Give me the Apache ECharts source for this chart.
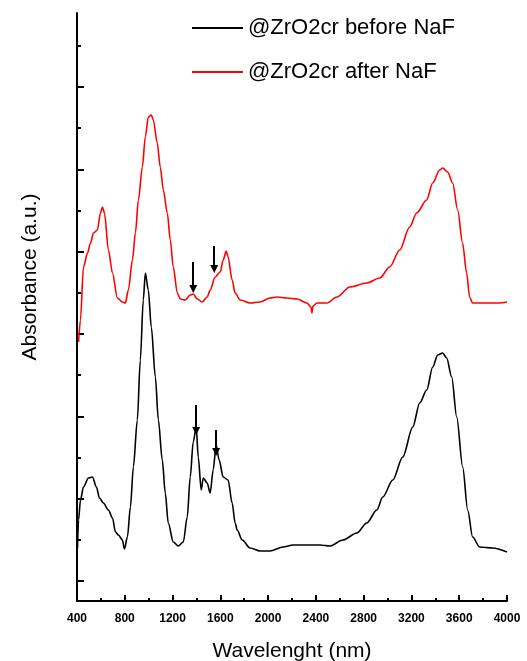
<!DOCTYPE html>
<html>
<head>
<meta charset="utf-8">
<title>Absorbance</title>
<script src="https://cdn.jsdelivr.net/npm/echarts@6/dist/echarts.min.js"></script>
<style>
  html, body { margin: 0; padding: 0; background: #fff; }
  #main { width: 527px; height: 661px; }
</style>
</head>
<body>
<div id="main"></div>
<script>
// wavelength (nm) / absorbance (arbitrary units)
var redX = [413, 429, 454, 488, 513, 538, 571, 596, 613, 630, 663, 697, 738, 780, 805, 830, 864, 889, 914, 947, 972, 997, 1022, 1039, 1072, 1097, 1123, 1156, 1181, 1206, 1240, 1265, 1306, 1348, 1373, 1407, 1448, 1490, 1515, 1557, 1599, 1624, 1649, 1665, 1699, 1724, 1766, 1849, 1933, 2016, 2075, 2158, 2242, 2325, 2359, 2367, 2375, 2409, 2492, 2576, 2684, 2826, 2935, 3018, 3102, 3185, 3244, 3327, 3378, 3436, 3461, 3503, 3545, 3587, 3628, 3662, 3687, 3712, 3829, 3937, 4000];
var redY = [25.9, 28.1, 33.4, 34.8, 35.8, 36.8, 37.1, 38.8, 39.4, 38.8, 35.1, 32.8, 30.3, 29.9, 29.8, 31.1, 34.1, 36.8, 40.1, 43.4, 46.4, 48.4, 48.6, 48.1, 45.8, 43.4, 41.1, 38.8, 36.1, 33.4, 30.8, 30.2, 30.1, 30.6, 30.7, 30.2, 29.9, 30.4, 31.1, 32.4, 32.9, 34.1, 35.0, 34.4, 32.1, 30.8, 30.1, 29.8, 29.9, 30.3, 30.4, 30.3, 30.2, 29.8, 29.4, 28.8, 29.5, 29.8, 29.8, 30.4, 31.4, 31.8, 32.3, 33.4, 35.1, 37.4, 38.8, 40.1, 41.8, 43.1, 43.3, 42.9, 41.8, 39.1, 35.8, 32.8, 30.4, 29.8, 29.8, 29.8, 29.9];

var blackX = [404, 413, 429, 454, 496, 529, 563, 588, 621, 663, 697, 722, 747, 780, 797, 822, 847, 872, 905, 930, 955, 972, 997, 1022, 1056, 1081, 1114, 1139, 1164, 1206, 1248, 1290, 1323, 1348, 1373, 1398, 1415, 1440, 1457, 1490, 1515, 1540, 1565, 1590, 1624, 1665, 1699, 1724, 1741, 1783, 1849, 1933, 2016, 2125, 2209, 2434, 2518, 2626, 2743, 2826, 2910, 2960, 3044, 3127, 3211, 3269, 3328, 3378, 3420, 3461, 3495, 3537, 3579, 3629, 3671, 3712, 3771, 3879, 4000];
var blackY = [5.3, 8.1, 10.1, 11.4, 12.3, 12.4, 11.4, 10.3, 9.8, 9.1, 8.3, 6.9, 6.6, 6.1, 5.2, 6.4, 9.4, 13.4, 18.1, 24.1, 30.1, 32.8, 31.1, 27.4, 22.4, 18.1, 14.1, 10.8, 7.8, 5.9, 5.5, 5.9, 8.4, 12.4, 15.9, 17.4, 14.4, 11.1, 12.3, 11.8, 10.8, 13.1, 15.6, 14.1, 12.4, 12.1, 9.8, 7.8, 7.1, 6.1, 5.3, 5.0, 5.0, 5.4, 5.6, 5.6, 5.5, 6.1, 6.8, 7.8, 9.1, 10.4, 12.1, 14.4, 17.4, 19.8, 21.1, 23.4, 24.6, 24.8, 24.3, 22.4, 18.4, 13.4, 9.1, 6.4, 5.4, 5.3, 4.9];

// unlabelled y ticks
var yMajorTicks = [2.0, 10.23, 18.47, 26.7, 34.93, 43.17, 51.4];
var yMinorTicks = [6.12, 14.35, 22.58, 30.82, 39.05, 47.28, 55.5];

// arrows: [x, yStart, yEnd]
var redArrows = [[1373, 33.9, 31.2], [1549, 35.5, 33.2]];
var blackArrows = [[1398, 19.6, 17.0], [1565, 17.1, 14.9]];

var seriesNames = ['@ZrO2cr before NaF', '@ZrO2cr after NaF'];

var font = 'Liberation Sans, Arial, sans-serif';

function zip(xs, ys) {
    var res = [];
    for (var i = 0; i < xs.length; i++) {
        res.push([xs[i], ys[i]]);
    }
    return res;
}

function arrowLines(list) {
    return list.map(function (a) {
        return [{ coord: [a[0], a[1]] }, { coord: [a[0], a[2]] }];
    });
}

function arrowMark(list) {
    return {
        silent: true,
        symbol: ['none', 'triangle'],
        symbolSize: 8,
        label: { show: false },
        lineStyle: { color: '#000', width: 2, type: 'solid' },
        emphasis: { disabled: true },
        data: arrowLines(list)
    };
}

var myChart = echarts.init(document.getElementById('main'));

var option = {
    animation: false,
    backgroundColor: '#fff',
    grid: { left: 77, right: 20, top: 13, bottom: 60, outerBoundsMode: 'none' },
    legend: {
        orient: 'vertical',
        left: 192,
        top: 17,
        padding: 0,
        itemWidth: 51,
        itemHeight: 2,
        itemGap: 22,
        icon: 'rect',
        data: seriesNames,
        textStyle: { fontFamily: font, fontSize: 22, lineHeight: 22, color: '#000' }
    },
    xAxis: {
        type: 'value',
        min: 400,
        max: 4000,
        interval: 400,
        name: 'Wavelenght (nm)',
        nameLocation: 'middle',
        nameGap: 40,
        nameTextStyle: { fontFamily: font, fontSize: 21, color: '#000' },
        axisLine: { lineStyle: { color: '#000', width: 2 } },
        axisTick: { inside: true, length: 6, lineStyle: { color: '#000', width: 2 } },
        minorTick: { show: true, splitNumber: 2, length: 3, lineStyle: { color: '#000', width: 2 } },
        axisLabel: {
            margin: 12,
            fontFamily: font,
            fontSize: 12,
            fontWeight: 'bold',
            color: '#000',
            formatter: function (v) { return String(v); }
        },
        splitLine: { show: false }
    },
    yAxis: [
        {
            type: 'value',
            min: 0,
            max: 58.8,
            axisLine: { show: true, lineStyle: { color: '#000', width: 2 } },
            axisTick: { inside: true, length: 7, customValues: yMajorTicks, lineStyle: { color: '#000', width: 2 } },
            axisLabel: { show: false },
            splitLine: { show: false }
        },
        {
            type: 'value',
            position: 'left',
            min: 0,
            max: 58.8,
            axisLine: { show: false },
            axisTick: { show: true, inside: true, length: 4, customValues: yMinorTicks, lineStyle: { color: '#000', width: 2 } },
            axisLabel: { show: false },
            splitLine: { show: false }
        }
    ],
    graphic: [{
        type: 'text',
        x: 30,
        y: 277,
        rotation: Math.PI / 2,
        style: {
            text: 'Absorbance (a.u.)',
            fontFamily: font,
            fontSize: 21,
            fill: '#000',
            align: 'center',
            verticalAlign: 'middle'
        }
    }],
    series: [
        {
            name: seriesNames[0],
            type: 'line',
            color: '#000',
            symbol: 'none',
            smooth: 0.3,
            smoothMonotone: 'x',
            lineStyle: { width: 1.6 },
            data: zip(blackX, blackY),
            markLine: arrowMark(blackArrows)
        },
        {
            name: seriesNames[1],
            type: 'line',
            color: '#ff0000',
            symbol: 'none',
            smooth: 0.3,
            smoothMonotone: 'x',
            lineStyle: { width: 1.6 },
            data: zip(redX, redY),
            markLine: arrowMark(redArrows)
        }
    ]
};

myChart.setOption(option);
</script>
</body>
</html>
